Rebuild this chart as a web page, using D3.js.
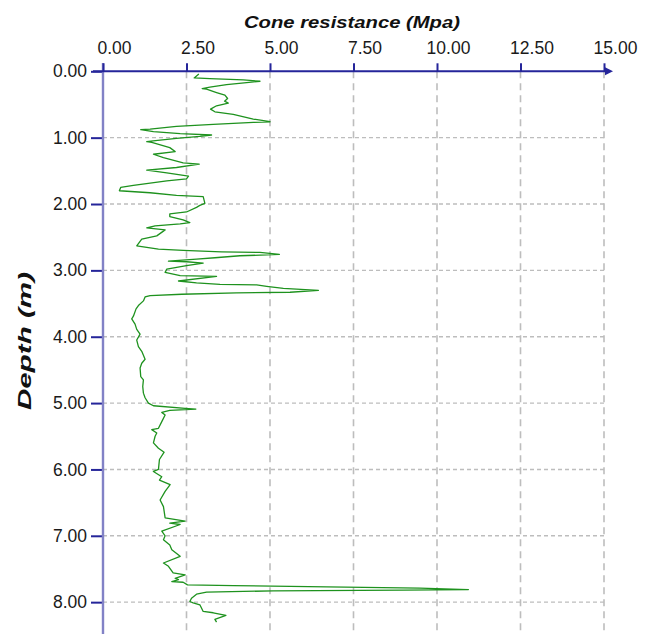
<!DOCTYPE html>
<html>
<head>
<meta charset="utf-8">
<script src="https://cdn.jsdelivr.net/npm/d3@7/dist/d3.min.js"></script>
<style>
  html, body { margin: 0; padding: 0; background: #fff; }
  svg { display: block; }
</style>
</head>
<body>
<svg id="chart" width="646" height="634"></svg>
<script>
// CPT sounding: cone resistance (MPa) against depth (m)
const depth = [
  0.04,0.10,0.11,0.13,0.15,0.17,0.20,0.24,0.26,0.27,
  0.32,0.36,0.41,0.45,0.48,0.52,0.57,0.61,0.65,0.72,
  0.76,0.77,0.80,0.83,0.87,0.88,0.91,0.94,0.96,0.98,
  1.01,1.05,1.06,1.07,1.15,1.21,1.25,1.30,1.38,1.40,
  1.45,1.49,1.53,1.58,1.62,1.65,1.72,1.75,1.80,1.83,
  1.87,1.89,1.99,2.02,2.05,2.12,2.15,2.19,2.24,2.28,
  2.30,2.33,2.36,2.39,2.48,2.53,2.63,2.68,2.70,2.72,
  2.73,2.76,2.78,2.81,2.83,2.86,2.87,2.89,2.93,2.98,
  3.03,3.08,3.09,3.16,3.19,3.21,3.22,3.24,3.27,3.30,
  3.33,3.34,3.36,3.38,3.40,3.46,3.53,3.58,3.69,3.73,
  3.81,3.89,3.96,4.05,4.15,4.22,4.34,4.40,4.47,4.60,
  4.65,4.75,4.85,4.92,5.00,5.04,5.08,5.09,5.11,5.14,
  5.18,5.28,5.38,5.40,5.45,5.50,5.60,5.68,5.74,5.85,
  6.00,6.03,6.11,6.16,6.23,6.33,6.46,6.56,6.73,6.78,
  6.81,6.83,6.93,7.00,7.06,7.14,7.21,7.31,7.41,7.46,
  7.56,7.59,7.64,7.66,7.69,7.70,7.74,7.75,7.77,7.79,
  7.81,7.82,7.83,7.85,7.88,7.94,7.99,8.01,8.04,8.14,
  8.16,8.20,8.26,8.30
];
const coneResistance = [
  2.87,2.73,3.20,4.20,4.70,4.30,3.70,3.20,2.97,3.10,
  3.40,3.65,3.73,3.64,3.75,3.40,3.22,3.35,3.90,4.50,
  5.00,4.50,3.30,2.20,1.41,1.13,1.51,2.31,3.25,2.90,
  2.20,1.50,1.31,1.46,2.00,2.16,1.51,1.81,2.40,2.88,
  2.20,1.31,1.91,2.56,2.50,1.91,0.91,0.53,0.49,1.41,
  2.20,3.00,3.05,2.90,2.80,2.50,2.00,2.00,2.40,2.60,
  2.31,1.56,1.31,1.86,1.61,1.16,1.01,1.66,2.40,3.55,
  4.70,5.28,4.10,3.35,2.80,1.96,2.50,3.00,2.50,1.91,
  1.86,2.31,3.40,2.26,2.80,3.50,4.60,4.90,5.40,6.45,
  5.60,4.00,2.36,1.41,1.26,1.21,1.06,0.99,0.91,0.86,
  0.96,1.01,1.11,1.01,1.06,1.16,1.26,1.16,1.11,1.13,
  1.21,1.19,1.21,1.26,1.36,1.51,2.46,2.78,2.00,1.76,
  1.86,1.76,1.66,1.46,1.61,1.56,1.51,1.66,1.83,1.69,
  1.66,1.51,1.76,1.69,2.01,1.86,1.71,1.81,1.86,2.46,
  2.00,2.31,1.76,1.86,1.81,2.00,2.06,2.31,1.81,1.96,
  2.10,2.46,2.16,2.26,2.06,2.40,2.53,3.90,6.70,9.49,
  10.94,9.00,5.10,3.10,2.80,2.65,2.60,2.70,2.90,3.00,
  3.30,3.68,3.35,3.40
];
const xTicks = [0, 2.5, 5, 7.5, 10, 12.5, 15];
const yTicks = [0, 1, 2, 3, 4, 5, 6, 7, 8];
const xTitle = "Cone resistance (Mpa)";
const yTitle = "Depth (m)";

const svg = d3.select("#chart");
const navy = "#25259a";
const axisPale = "#8282c6";
const gridCol = "#bdbdbd";

const x = d3.scaleLinear().domain([0, 15]).range([103, 604]);
const y = d3.scaleLinear().domain([0, 8.48]).range([71.3, 634]);

// grid
const grid = svg.append("g");
grid.selectAll("line.v").data(xTicks.slice(1)).join("line")
  .attr("x1", d => x(d)).attr("x2", d => x(d))
  .attr("y1", y(0)).attr("y2", 634)
  .attr("stroke", gridCol).attr("stroke-width", 1.6)
  .attr("stroke-dasharray", "7,5");
grid.selectAll("line.h").data(yTicks.slice(1)).join("line")
  .attr("x1", x(0)).attr("x2", x(15))
  .attr("y1", d => y(d)).attr("y2", d => y(d))
  .attr("stroke", gridCol).attr("stroke-width", 1.4)
  .attr("stroke-dasharray", "4,3");

// profile
const pts = depth.map((d, i) => [coneResistance[i], d]);
svg.append("path")
  .datum(pts)
  .attr("fill", "none")
  .attr("stroke", "#1e921e")
  .attr("stroke-width", 1.3)
  .attr("stroke-linejoin", "round")
  .attr("d", d3.line().x(d => x(d[0])).y(d => y(d[1])));

// y axis (left)
const yAxis = svg.append("g")
  .call(d3.axisLeft(y).tickValues(yTicks).tickSize(12).tickPadding(4)
    .tickFormat(d3.format(".2f")));
yAxis.attr("transform", `translate(${x(0)},0)`);
yAxis.select(".domain").remove();
yAxis.selectAll(".tick line").attr("stroke", navy).attr("stroke-width", 2);
yAxis.selectAll(".tick text")
  .attr("fill", "#1a1a1a")
  .style("font-family", "'Liberation Sans', Arial, sans-serif")
  .style("font-size", "17.5px");
svg.append("line")
  .attr("x1", x(0)).attr("x2", x(0))
  .attr("y1", 63).attr("y2", 634)
  .attr("stroke", axisPale).attr("stroke-width", 2.4);

// x axis (top)
const xAxis = svg.append("g")
  .attr("transform", `translate(0,${y(0)})`)
  .call(d3.axisTop(x).tickValues(xTicks).tickSize(8).tickPadding(9)
    .tickFormat(d3.format(".2f")));
xAxis.select(".domain").remove();
xAxis.selectAll(".tick line").attr("stroke", navy).attr("stroke-width", 2);
xAxis.selectAll(".tick text")
  .attr("fill", "#1a1a1a")
  .attr("dx", 11)
  .style("font-family", "'Liberation Sans', Arial, sans-serif")
  .style("font-size", "17.5px");
svg.append("line")
  .attr("x1", x(0) - 10).attr("x2", 609)
  .attr("y1", y(0)).attr("y2", y(0))
  .attr("stroke", navy).attr("stroke-width", 2);
svg.append("path")
  .attr("d", `M605,${y(0) - 4} L613,${y(0)} L605,${y(0) + 4} Z`)
  .attr("fill", navy);

// titles
svg.append("text")
  .attr("x", 352).attr("y", 27.5)
  .attr("text-anchor", "middle")
  .attr("textLength", 216).attr("lengthAdjust", "spacingAndGlyphs")
  .style("font-family", "'Liberation Sans', Arial, sans-serif")
  .style("font-size", "17px").style("font-weight", "bold").style("font-style", "italic")
  .attr("fill", "#111")
  .text(xTitle);

svg.append("text")
  .attr("transform", "translate(31,341) rotate(-90)")
  .attr("text-anchor", "middle")
  .attr("textLength", 138).attr("lengthAdjust", "spacingAndGlyphs")
  .style("font-family", "'Liberation Sans', Arial, sans-serif")
  .style("font-size", "19px").style("font-weight", "bold").style("font-style", "italic")
  .attr("fill", "#111")
  .text(yTitle);
</script>
</body>
</html>
